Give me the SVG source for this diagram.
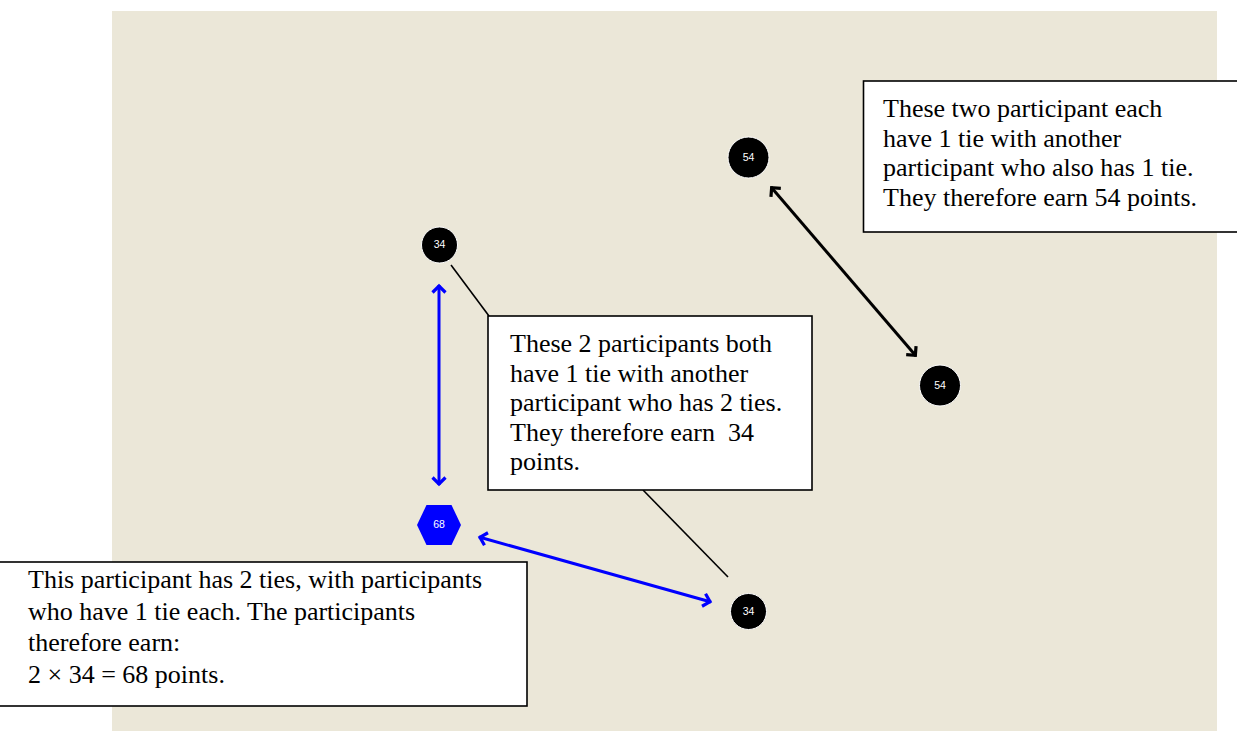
<svg xmlns="http://www.w3.org/2000/svg" width="1237" height="731" viewBox="0 0 1237 731">
<style>
.box{fill:#ffffff;stroke:#000000;stroke-width:1.6}
.t{font-family:"Liberation Serif","Times New Roman",serif;font-size:26px;fill:#000000}
.nl{font-family:"Liberation Sans",Arial,sans-serif;font-size:10.5px;fill:#ffffff;text-anchor:middle}
.node{fill:#000000;stroke:#ffffff;stroke-width:1}
.blue{stroke:#0000ff;stroke-width:3;fill:none}
.blk{stroke:#000000;stroke-width:3;fill:none}
.call{stroke:#000000;stroke-width:1.6;fill:none}
</style>
<defs>
<marker id="ahb" markerUnits="userSpaceOnUse" markerWidth="20" markerHeight="20" viewBox="-10 -10 20 20" refX="1" refY="0" orient="auto-start-reverse" overflow="visible">
<path d="M-6.5,-6.5 L0,0 L-6.5,6.5" fill="none" stroke="#0000ff" stroke-width="3.2"/>
</marker>
<marker id="ahk" markerUnits="userSpaceOnUse" markerWidth="20" markerHeight="20" viewBox="-10 -10 20 20" refX="1" refY="0" orient="auto-start-reverse" overflow="visible">
<path d="M-6.5,-6.5 L0,0 L-6.5,6.5" fill="none" stroke="#000000" stroke-width="3.2"/>
</marker>
</defs>
<rect x="0" y="0" width="1237" height="731" fill="#ffffff"/>
<rect x="112" y="11" width="1105" height="720" fill="#ebe7d8"/>
<g id="connectors">
<line class="blue" x1="439" y1="285" x2="439" y2="485" marker-start="url(#ahb)" marker-end="url(#ahb)"/>
<line class="blue" x1="479" y1="537" x2="711" y2="602" marker-start="url(#ahb)" marker-end="url(#ahb)"/>
<line class="blk" x1="771" y1="187" x2="916" y2="356" marker-start="url(#ahk)" marker-end="url(#ahk)"/>
<line class="call" x1="451" y1="265" x2="489" y2="316"/>
<line class="call" x1="643" y1="490" x2="728" y2="577"/>
</g>
<g id="node-34-top">
<circle class="node" cx="439.5" cy="245" r="18"/>
<text class="nl" x="439.5" y="247.5">34</text>
</g>
<g id="node-68">
<polygon points="417,525 426.5,505 451.5,505 461,525 451.5,545 426.5,545" fill="#0000ff"/>
<text class="nl" x="439" y="528">68</text>
</g>
<g id="node-54-top">
<circle class="node" cx="748.5" cy="157.5" r="20.5"/>
<text class="nl" x="748.5" y="160.5">54</text>
</g>
<g id="node-54-bottom">
<circle class="node" cx="940" cy="385.5" r="20.5"/>
<text class="nl" x="940" y="388.5">54</text>
</g>
<g id="node-34-bottom">
<circle class="node" cx="748.5" cy="611.5" r="18"/>
<text class="nl" x="748.5" y="614.5">34</text>
</g>
<g id="note-54">
<rect class="box" x="863.5" y="81" width="380" height="151"/>
<text class="t" x="883" y="117">These two participant each</text>
<text class="t" x="883" y="146.5">have 1 tie with another</text>
<text class="t" x="883" y="176">participant who also has 1 tie.</text>
<text class="t" x="883" y="205.5">They therefore earn 54 points.</text>
</g>
<g id="note-34">
<rect class="box" x="488" y="316" width="324" height="174"/>
<text class="t" x="510" y="352">These 2 participants both</text>
<text class="t" x="510" y="381.5">have 1 tie with another</text>
<text class="t" x="510" y="411">participant who has 2 ties.</text>
<text class="t" x="510" y="440.5" xml:space="preserve">They therefore earn  34</text>
<text class="t" x="510" y="470">points.</text>
</g>
<g id="note-68">
<rect class="box" x="-5" y="562" width="532" height="144"/>
<text class="t" x="28" y="588">This participant has 2 ties, with participants</text>
<text class="t" x="28" y="619.5">who have 1 tie each. The participants</text>
<text class="t" x="28" y="651">therefore earn:</text>
<text class="t" x="28" y="682.5">2 × 34 = 68 points.</text>
</g>
</svg>
